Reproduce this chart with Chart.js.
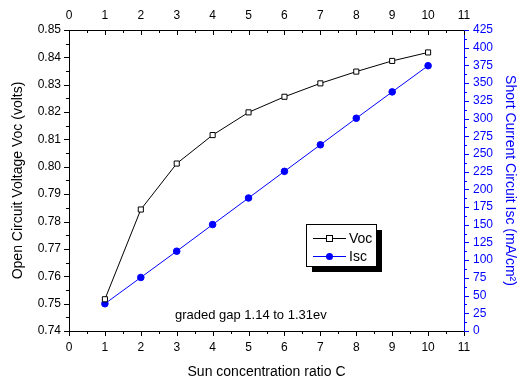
<!DOCTYPE html>
<html>
<head>
<meta charset="utf-8">
<script src="https://cdn.jsdelivr.net/npm/chart.js@4/dist/chart.umd.min.js"></script>
<style>
html,body{margin:0;padding:0;background:#fff;}
#wrap{width:520px;height:379px;}
</style>
</head>
<body>
<div id="wrap"><canvas id="c" width="520" height="379"></canvas></div>
<script>
const sunRatio = [1, 2, 3, 4, 5, 6, 7, 8, 9, 10];
const vocValues = [0.7516, 0.7844, 0.8012, 0.8116, 0.8199, 0.8256, 0.8305, 0.8348, 0.8387, 0.8418];
const iscValues = [38.5, 75.6, 112.7, 150.3, 187.8, 225.4, 262.9, 300.4, 337.6, 374.6];
const xTickValues = [0, 1, 2, 3, 4, 5, 6, 7, 8, 9, 10, 11];
const vocTickValues = [0.74, 0.75, 0.76, 0.77, 0.78, 0.79, 0.80, 0.81, 0.82, 0.83, 0.84, 0.85];
const iscTickValues = [0, 25, 50, 75, 100, 125, 150, 175, 200, 225, 250, 275, 300, 325, 350, 375, 400, 425];
const legendLabels = ['Voc', 'Isc'];
const noteText = 'graded gap 1.14 to 1.31ev';
const xTitle = 'Sun concentration ratio C';
const yTitle = 'Open Circuit Voltage Voc (volts)';
const y2Title = 'Short Current Circuit Isc (mA/cm\u00B2)';

const BLUE = '#0000ff';
Chart.defaults.font.family = "'Liberation Sans', Arial, sans-serif";
Chart.defaults.color = '#000';

function fixed(size, prop) {
  return function (scale) { scale[prop] = size; };
}

const tickPlugin = {
  id: 'ticksAndExtras',
  afterDraw(chart) {
    const ctx = chart.ctx;
    const s = chart.scales;
    const a = chart.chartArea;
    ctx.save();
    ctx.lineWidth = 1;
    function hTicks(scale, yBase, dir, color) {
      ctx.strokeStyle = color;
      ctx.beginPath();
      for (let i = 0; i <= 22; i++) {
        const v = i * 0.5;
        const px = Math.round(scale.getPixelForValue(v)) + 0.5;
        const len = (i % 2 === 0) ? 5 : 3;
        ctx.moveTo(px, yBase);
        ctx.lineTo(px, yBase + dir * len);
      }
      ctx.stroke();
    }
    function vTicks(scale, xBase, dir, color, minV, maxV, minor) {
      ctx.strokeStyle = color;
      ctx.beginPath();
      const n = Math.round((maxV - minV) / minor);
      for (let i = 0; i <= n; i++) {
        const v = minV + i * minor;
        const py = Math.round(scale.getPixelForValue(v)) + 0.5;
        const len = (i % 2 === 0) ? 5 : 3;
        ctx.moveTo(xBase, py);
        ctx.lineTo(xBase + dir * len, py);
      }
      ctx.stroke();
    }
    hTicks(s.x, a.bottom, 1, '#000');
    hTicks(s.x2, a.top, 1, '#000');
    vTicks(s.y, a.left, -1, '#000', 0.74, 0.85, 0.005);
    vTicks(s.y2, a.right, 1, BLUE, 0, 425, 12.5);

    // annotation
    ctx.fillStyle = '#000';
    ctx.font = "13px 'Liberation Sans', Arial, sans-serif";
    ctx.textBaseline = 'middle';
    ctx.textAlign = 'left';
    ctx.fillText(noteText, s.x.getPixelForValue(2.95), s.y.getPixelForValue(0.7457));

    // legend
    const lx = 306, ly = 224, lw = 70, lh = 42;
    ctx.fillStyle = '#000';
    ctx.fillRect(lx + 6, ly + 6, lw, lh);
    ctx.fillStyle = '#fff';
    ctx.fillRect(lx, ly, lw, lh);
    ctx.strokeStyle = '#000';
    ctx.lineWidth = 1;
    ctx.strokeRect(lx + 0.5, ly + 0.5, lw, lh);
    const rows = [ly + 14, ly + 32];
    ctx.beginPath();
    ctx.moveTo(313, rows[0] + 0.5); ctx.lineTo(346, rows[0] + 0.5);
    ctx.strokeStyle = '#000'; ctx.stroke();
    ctx.fillStyle = '#fff';
    ctx.fillRect(326.5, rows[0] - 2.5, 6, 6);
    ctx.strokeRect(326.5, rows[0] - 2.5, 6, 6);
    ctx.beginPath();
    ctx.moveTo(313, rows[1] + 0.5); ctx.lineTo(346, rows[1] + 0.5);
    ctx.strokeStyle = BLUE; ctx.stroke();
    ctx.fillStyle = BLUE;
    ctx.beginPath(); ctx.arc(329.5, rows[1] + 0.5, 3.5, 0, Math.PI * 2); ctx.fill();
    ctx.fillStyle = '#000';
    ctx.font = "14px 'Liberation Sans', Arial, sans-serif";
    ctx.fillText(legendLabels[0], 349, rows[0] + 1);
    ctx.fillText(legendLabels[1], 349, rows[1] + 1);
    ctx.restore();
  }
};

const chart = new Chart(document.getElementById('c'), {
  type: 'line',
  data: {
    datasets: [
      {
        label: legendLabels[0],
        data: sunRatio.map((x, i) => ({ x: x, y: vocValues[i] })),
        xAxisID: 'x', yAxisID: 'y',
        borderColor: '#000', borderWidth: 1,
        pointStyle: 'rect', pointRadius: 3.6,
        pointBackgroundColor: '#fff', pointBorderColor: '#000', pointBorderWidth: 1,
        tension: 0, fill: false
      },
      {
        label: legendLabels[1],
        data: sunRatio.map((x, i) => ({ x: x, y: iscValues[i] })),
        xAxisID: 'x', yAxisID: 'y2',
        borderColor: BLUE, borderWidth: 1,
        pointStyle: 'circle', pointRadius: 3.3,
        pointBackgroundColor: BLUE, pointBorderColor: BLUE, pointBorderWidth: 1,
        tension: 0, fill: false
      }
    ]
  },
  options: {
    responsive: false,
    animation: false,
    layout: { padding: 0 },
    plugins: { legend: { display: false }, tooltip: { enabled: false } },
    scales: {
      x: {
        type: 'linear', position: 'bottom', min: 0, max: 11,
        afterBuildTicks: (sc) => { sc.ticks = xTickValues.map(v => ({ value: v })); },
        afterFit: fixed(48, 'height'),
        ticks: { font: { size: 12 }, color: '#000', padding: 9 },
        grid: { drawOnChartArea: false, drawTicks: false },
        border: { display: true, color: '#000', width: 1 },
        title: { display: true, text: xTitle, color: '#000', font: { size: 14 }, padding: { top: 0, bottom: -2 } }
      },
      x2: {
        type: 'linear', position: 'top', min: 0, max: 11,
        afterBuildTicks: (sc) => { sc.ticks = xTickValues.map(v => ({ value: v })); },
        afterFit: fixed(30, 'height'),
        ticks: { font: { size: 12 }, color: '#000', padding: 7 },
        grid: { drawOnChartArea: false, drawTicks: false },
        border: { display: true, color: '#000', width: 1 }
      },
      y: {
        type: 'linear', position: 'left', min: 0.74, max: 0.85,
        afterBuildTicks: (sc) => { sc.ticks = vocTickValues.map(v => ({ value: v })); },
        afterFit: fixed(69, 'width'),
        ticks: { font: { size: 12 }, color: '#000', padding: 8, callback: (v) => Number(v).toFixed(2) },
        grid: { drawOnChartArea: false, drawTicks: false },
        border: { display: true, color: '#000', width: 1 },
        title: { display: true, text: yTitle, color: '#000', font: { size: 14 }, padding: { top: 10, bottom: 0 } }
      },
      y2: {
        type: 'linear', position: 'right', min: 0, max: 425,
        afterBuildTicks: (sc) => { sc.ticks = iscTickValues.map(v => ({ value: v })); },
        afterFit: fixed(56, 'width'),
        ticks: { font: { size: 12 }, color: BLUE, padding: 9 },
        grid: { drawOnChartArea: false, drawTicks: false },
        border: { display: true, color: BLUE, width: 1 },
        title: { display: true, text: y2Title, color: BLUE, font: { size: 14 }, padding: { top: 2, bottom: 0 } }
      }
    }
  },
  plugins: [tickPlugin]
});
</script>
</body>
</html>
